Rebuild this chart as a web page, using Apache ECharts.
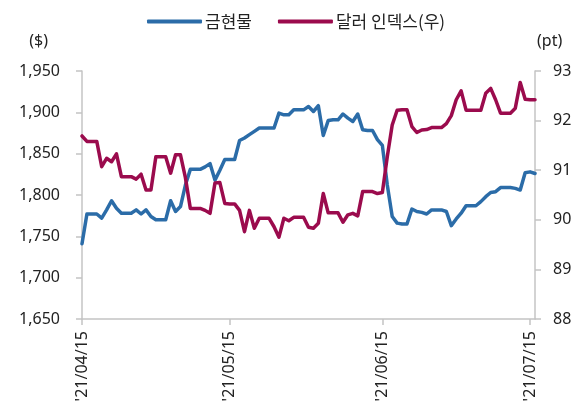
<!DOCTYPE html>
<html>
<head>
<meta charset="utf-8">
<script src="https://cdn.jsdelivr.net/npm/echarts@6/dist/echarts.min.js"></script>
<style>
html,body{margin:0;padding:0;background:#fff;}
#chart{width:579px;height:415px;}
</style>
</head>
<body>
<div id="chart"></div>
<script>
// x categories: calendar days from 2021-04-15 (93 days)
var startDate = [2021, 3, 15];
var dayCount = 93;
var seriesNames = ['금현물', '달러 인덱스(우)'];
var goldValues = [
  1741,1777,1777,1777,1772,1782,1793,1784,1778,1778,
  1778,1782,1777,1782,1774,1770,1770,1770,1793,1780,
  1786,1812,1831,1831,1831,1834,1838,1818,1830,1843,
  1843,1843,1866,1869,1873,1877,1881,1881,1881,1881,
  1899,1897,1897,1903,1903,1903,1907,1901,1908,1872,
  1890,1891,1891,1898,1893,1889,1898,1879,1878,1878,
  1867,1860,1812,1774,1766,1765,1765,1783,1780,1779,
  1777,1782,1782,1782,1780,1763,1771,1778,1787,1787,
  1787,1792,1798,1803,1804,1809,1809,1809,1808,1806,
  1827,1828,1826
];
var dollarValues = [
  91.69,91.58,91.58,91.58,91.07,91.24,91.17,91.33,90.87,90.87,
  90.87,90.82,90.92,90.60,90.60,91.27,91.27,91.27,90.94,91.31,
  91.31,90.85,90.23,90.23,90.23,90.19,90.13,90.74,90.75,90.33,
  90.32,90.32,90.19,89.76,90.19,89.83,90.03,90.03,90.03,89.86,
  89.65,90.03,89.98,90.05,90.05,90.05,89.85,89.83,89.93,90.53,
  90.14,90.14,90.14,89.95,90.10,90.13,90.08,90.57,90.57,90.57,
  90.53,90.55,91.27,91.91,92.21,92.22,92.22,91.88,91.76,91.81,
  91.82,91.86,91.86,91.86,91.94,92.10,92.42,92.60,92.21,92.21,
  92.21,92.21,92.55,92.65,92.42,92.15,92.15,92.15,92.25,92.77,
  92.43,92.42,92.42
];
var leftAxis = {min: 1650, max: 1950, interval: 50, name: '($)'};
var rightAxis = {min: 88, max: 93, interval: 1, name: '(pt)'};
var labelDay = 15;

function pad(n){ return (n < 10 ? '0' : '') + n; }
var categories = [];
for (var i = 0; i < dayCount; i++) {
  var d = new Date(startDate[0], startDate[1], startDate[2] + i);
  categories.push("'" + String(d.getFullYear()).slice(2) + '/' + pad(d.getMonth() + 1) + '/' + pad(d.getDate()));
}
function isLabelDay(idx) {
  return parseInt(categories[idx].slice(-2), 10) === labelDay;
}

var FONT = '"Noto Sans", "Noto Sans CJK KR", sans-serif';
var TXT = '#222';
var AX = '#c4c4c4';
var chart = echarts.init(document.getElementById('chart'), null, {renderer: 'canvas'});
chart.setOption({
  animation: false,
  backgroundColor: '#fff',
  textStyle: {fontFamily: FONT},
  legend: {
    left: 142, top: 8,
    itemWidth: 55, itemHeight: 4, itemGap: 26,
    icon: 'roundRect',
    textStyle: {fontSize: 17, color: TXT, fontFamily: '"Noto Sans CJK KR", sans-serif', padding: [0,0,0,-2]},
    data: seriesNames
  },
  grid: {left: 82, right: 44, top: 71, bottom: 96, containLabel: false},
  xAxis: {
    type: 'category',
    data: categories,
    boundaryGap: false,
    axisLine: {lineStyle: {color: AX, width: 1.5}},
    axisTick: {show: true, length: 6, interval: function(idx){ return isLabelDay(idx); }, lineStyle: {color: AX, width: 1.5}},
    axisLabel: {
      interval: function(idx){ return isLabelDay(idx); },
      rotate: 90, margin: 12, fontSize: 16, color: TXT, fontFamily: FONT
    },
    splitLine: {show: false}
  },
  yAxis: [
    {
      type: 'value', position: 'left',
      min: leftAxis.min, max: leftAxis.max, interval: leftAxis.interval,
      name: leftAxis.name, nameLocation: 'end', nameGap: 22,
      nameTextStyle: {fontSize: 16, color: TXT, align: 'right', padding: [0, 34, 0, 0], fontFamily: FONT},
      axisLine: {show: true, lineStyle: {color: AX, width: 1.5}},
      axisTick: {show: true, length: 6, lineStyle: {color: AX, width: 1.5}},
      axisLabel: {fontSize: 16, color: TXT, margin: 22, fontFamily: FONT,
        formatter: function(v){ return v.toLocaleString('en-US'); }},
      splitLine: {show: false}
    },
    {
      type: 'value', position: 'right',
      min: rightAxis.min, max: rightAxis.max, interval: rightAxis.interval,
      name: rightAxis.name, nameLocation: 'end', nameGap: 22,
      nameTextStyle: {fontSize: 16, color: TXT, align: 'left', padding: [0, 0, 0, 2], fontFamily: FONT},
      axisLine: {show: true, lineStyle: {color: AX, width: 1.5}},
      axisTick: {show: true, length: 6, lineStyle: {color: AX, width: 1.5}},
      axisLabel: {fontSize: 16, color: TXT, margin: 18, fontFamily: FONT},
      splitLine: {show: false}
    }
  ],
  series: [
    {
      name: seriesNames[0], type: 'line', yAxisIndex: 0,
      data: goldValues, showSymbol: false, symbol: 'none',
      itemStyle: {color: '#2b6ca8'},
      lineStyle: {color: '#2b6ca8', width: 3.5, join: 'round', cap: 'round'}
    },
    {
      name: seriesNames[1], type: 'line', yAxisIndex: 1,
      data: dollarValues, showSymbol: false, symbol: 'none',
      itemStyle: {color: '#9b0b4d'},
      lineStyle: {color: '#9b0b4d', width: 3.5, join: 'round', cap: 'round'}
    }
  ]
});
</script>
</body>
</html>
